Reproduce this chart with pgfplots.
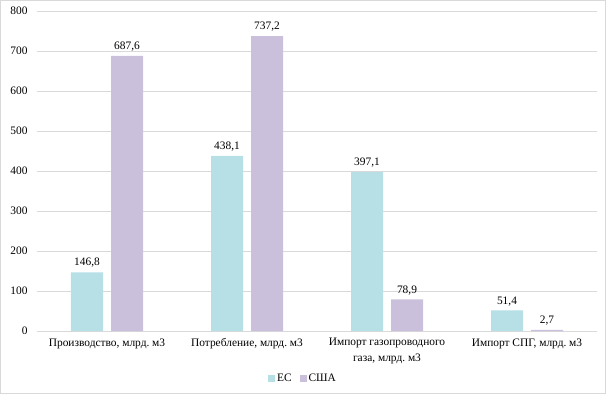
\documentclass[border=0pt]{standalone}
\usepackage{pgfplots}
\pgfplotsset{compat=1.18}
\usepackage{fontspec}
\setmainfont{Liberation Serif}
\frenchspacing
\definecolor{es}{RGB}{182,223,230}
\definecolor{usa}{RGB}{202,192,220}
\definecolor{gridc}{RGB}{217,217,217}
\begin{document}
\begin{tikzpicture}
\draw[color=gridc, line width=0.8pt] (-36.6pt,-62.6pt) rectangle (568.6pt,330.6pt);
\begin{axis}[
  scale only axis,
  width=560pt, height=320pt,
  ymin=0, ymax=800, ytick={0,100,...,800},
  xmin=-0.5, xmax=3.5,
  xtick={0,1,2,3},
  xticklabels={{Производство, млрд. м3},{Потребление, млрд. м3},{Импорт газопроводного\\газа, млрд. м3},{Импорт СПГ, млрд. м3}},
  xticklabel style={align=center, font=\fontsize{11.4}{16}\selectfont, yshift=-4pt},
  yticklabel style={font=\fontsize{11.4}{13}\selectfont, xshift=-6pt},
  /pgf/number format/assume math mode=true,
  ymajorgrids, grid style={color=gridc, line width=0.6pt},
  axis x line*=bottom, axis y line*=left,
  y axis line style={draw=none},
  x axis line style={color=gridc, line width=0.8pt},
  major tick length=0pt,
  ybar=8pt, bar width=32pt,
  nodes near coords,
  nodes near coords style={font=\fontsize{11.4}{13}\selectfont, yshift=1pt, /pgf/number format/fixed, /pgf/number format/fixed zerofill, /pgf/number format/precision=1, /pgf/number format/use comma, /pgf/number format/assume math mode=true},
  legend style={at={(0.475,-0.147)}, anchor=center, draw=none, legend columns=2, font=\fontsize{11.4}{13}\selectfont, /tikz/every even column/.append style={column sep=6pt}},
  legend image code/.code={\fill[#1] (0pt,-3.5pt) rectangle (7pt,3.5pt);},
  clip=false,
]
\addplot[fill=es, draw=none] coordinates {(0,146.8) (1,438.1) (2,397.1) (3,51.4)};
\addplot[fill=usa, draw=none] coordinates {(0,687.6) (1,737.2) (2,78.9) (3,2.7)};
\legend{ЕС, США}
\end{axis}
\end{tikzpicture}
\end{document}
